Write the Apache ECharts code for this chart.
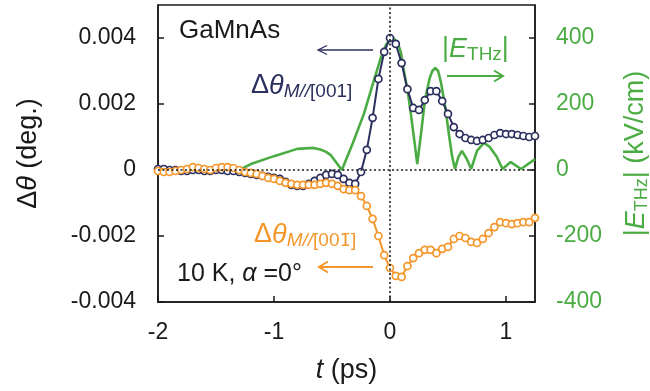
<!DOCTYPE html>
<html>
<head>
<meta charset="utf-8">
<script src="https://cdn.jsdelivr.net/npm/echarts@6/dist/echarts.min.js"></script>
<style>html,body{margin:0;padding:0;background:#fff}#c{width:650px;height:391px}</style>
</head>
<body>
<div id="c"></div>
<script>
// time delays (ps)
const times = [-2.00,-1.95,-1.90,-1.85,-1.80,-1.75,-1.70,-1.65,-1.60,-1.55,-1.50,-1.45,-1.40,-1.35,-1.30,-1.25,-1.20,-1.15,-1.10,-1.05,
  -1.00,-0.95,-0.90,-0.85,-0.80,-0.75,-0.70,-0.65,-0.60,-0.55,-0.50,-0.45,-0.40,-0.35,-0.30,-0.25,-0.20,-0.15,-0.10,-0.05,
  0.00,0.05,0.10,0.15,0.20,0.25,0.30,0.35,0.40,0.45,0.50,0.55,0.60,0.65,0.70,0.75,0.80,0.85,0.90,0.95,
  1.00,1.05,1.10,1.15,1.20,1.25];
// Δθ for M // [001] (deg.)
const thetaPlus = [0.00003,0.00003,0,0,-0.00003,-0.00003,0,0,-0.00003,-0.00003,0,0,-0.00003,-0.00003,-0.00006,-0.00009,-0.00012,-0.00015,-0.00018,-0.00021,
  -0.00024,-0.00027,-0.00036,-0.00045,-0.00048,-0.00048,-0.00042,-0.00033,-0.00024,-0.00015,-0.00012,-0.00015,-0.00027,-0.00039,-0.00042,-0.00006,0.00061,0.00158,0.00276,0.00358,
  0.0040,0.00382,0.00324,0.00245,0.00188,0.00182,0.00212,0.00239,0.00239,0.00209,0.0017,0.0013,0.00109,0.00097,0.00091,0.00088,0.00091,0.00097,0.00106,0.00112,
  0.00109,0.00109,0.00106,0.00103,0.0010,0.00103];
// Δθ for M // [00-1] (deg.)
const thetaMinus = [-0.00003,-0.00006,-0.00006,-0.00003,0,0.00003,0.00009,0.00006,0.00003,0,0.00006,0.00009,0.00009,0.00006,0,-0.00006,-0.00009,-0.00012,-0.00018,-0.00024,
  -0.00027,-0.00033,-0.00039,-0.00042,-0.00045,-0.00045,-0.00045,-0.00045,-0.00042,-0.00039,-0.00042,-0.00048,-0.00058,-0.00061,-0.00061,-0.00079,-0.00109,-0.00148,-0.0020,-0.00258,
  -0.00297,-0.00321,-0.00324,-0.00291,-0.00267,-0.00252,-0.00242,-0.00242,-0.00252,-0.00239,-0.00233,-0.00209,-0.0020,-0.00206,-0.00218,-0.00221,-0.00209,-0.00191,-0.00173,-0.00158,
  -0.00161,-0.00164,-0.00161,-0.00158,-0.00158,-0.00145];
// |E_THz| (kV/cm): times and magnitudes
const eTimes = [-2,-1.6,-1.3,-1.2,-1.0,-0.8,-0.66,-0.6,-0.55,-0.51,-0.415,-0.32,-0.225,-0.14,-0.08,-0.035,0.0,0.03,0.07,0.095,0.12,0.155,0.18,0.21,0.235,
  0.27,0.30,0.34,0.365,0.39,0.415,0.44,0.475,0.51,0.535,0.56,0.59,0.62,0.66,0.70,0.75,0.81,0.86,0.92,0.97,1.04,1.13,1.25];
const eField = [0,0,0,18,42,64,67,62,55,45,0,82,170,270,339,379,397,400,382,355,300,233,170,88,18,
  118,209,276,300,309,300,264,194,103,42,3,40,58,35,3,58,82,70,40,3,24,3,33];
const bottomTicks = [-2,-1,0,1];
const leftTicks = [-0.004,-0.002,0,0.002,0.004];
const rightTicks = [-400,-200,0,200,400];

const NAVY = '#2b2f5e', ORANGE = '#f5962a', GREEN = '#4cac44', BLACK = '#1a1a1a';
const FONT = 'Liberation Sans';

const pair = (xs, ys) => xs.map((x, i) => [x, ys[i]]);

const chart = echarts.init(document.getElementById('c'));
const option = {
  animation: false,
  grid: {left: 158, right: 115, top: 5, bottom: 89, show: true, borderColor: BLACK, borderWidth: 1.5,
    containLabel: false, outerBoundsMode: 'none'},
  xAxis: {
    type: 'value', min: -2, max: 1.25, interval: 1,
    axisLine: {show: true, onZero: false, lineStyle: {color: BLACK, width: 1.5}},
    axisTick: {inside: true, length: 6, lineStyle: {color: BLACK, width: 1.5}},
    axisLabel: {color: BLACK, fontSize: 23, fontFamily: FONT, margin: 19, showMaxLabel: false,
      formatter: v => bottomTicks.indexOf(Math.round(v * 100) / 100) >= 0 ? String(Math.round(v)) : ''},
    splitLine: {show: false},
    name: '{i|t}{a| (ps)}', nameLocation: 'middle', nameGap: 55,
    nameTextStyle: {color: BLACK, rich: {a: {fontSize: 27, fontFamily: FONT, color: BLACK}, i: {fontSize: 27, fontFamily: FONT, fontStyle: 'italic', color: BLACK}}}
  },
  yAxis: [{
    type: 'value', min: -0.004, max: 0.005, interval: 0.002,
    axisLine: {show: true, onZero: false, lineStyle: {color: BLACK, width: 1.5}},
    axisTick: {inside: true, length: 6, lineStyle: {color: BLACK, width: 1.5}},
    axisLabel: {color: BLACK, fontSize: 23, fontFamily: FONT, margin: 22, showMaxLabel: false,
      formatter: v => { const r = Math.round(v * 1000) / 1000; return leftTicks.some(t => Math.abs(t - r) < 1e-9) ? String(r) : ''; }},
    splitLine: {show: false},
    name: '{a|Δ}{i|θ}{a| (deg.)}', nameLocation: 'middle', nameGap: 116,
    nameTextStyle: {color: BLACK, rich: {a: {fontSize: 27, fontFamily: FONT, color: BLACK}, i: {fontSize: 27, fontFamily: FONT, fontStyle: 'italic', color: BLACK}}}
  }, {
    type: 'value', min: -400, max: 500, interval: 200, position: 'right',
    axisLine: {show: true, onZero: false, lineStyle: {color: BLACK, width: 1.5}},
    axisTick: {inside: true, length: 6, lineStyle: {color: BLACK, width: 1.5}},
    axisLabel: {color: GREEN, fontSize: 23, fontFamily: FONT, margin: 21, showMaxLabel: false,
      formatter: v => rightTicks.indexOf(Math.round(v)) >= 0 ? String(Math.round(v)) : ''},
    splitLine: {show: false},
    name: '{a||}{i|E}{s|THz}{a|| (kV/cm)}', nameLocation: 'middle', nameGap: 86,
    nameTextStyle: {color: GREEN, rich: {
      a: {fontSize: 27, fontFamily: FONT, color: GREEN, lineHeight: 30},
      i: {fontSize: 27, fontFamily: FONT, fontStyle: 'italic', color: GREEN, lineHeight: 30},
      s: {fontSize: 18, fontFamily: FONT, color: GREEN, verticalAlign: 'bottom', lineHeight: 17}}}
  }],
  series: [{
    type: 'line', yAxisIndex: 1, data: pair(eTimes, eField), showSymbol: false, symbol: 'none',
    lineStyle: {color: GREEN, width: 2.6}, z: 2
  }, {
    type: 'line', yAxisIndex: 0, data: pair(times, thetaPlus),
    symbol: 'circle', symbolSize: 7,
    itemStyle: {color: '#fff', borderColor: NAVY, borderWidth: 1.7},
    lineStyle: {color: NAVY, width: 2}, z: 3,
    markLine: {silent: true, symbol: 'none', label: {show: false},
      lineStyle: {color: BLACK, type: [2, 2.5], width: 1.6},
      data: [{xAxis: 0}, {yAxis: 0}]}
  }, {
    type: 'line', yAxisIndex: 0, data: pair(times, thetaMinus),
    symbol: 'circle', symbolSize: 7,
    itemStyle: {color: '#fff', borderColor: ORANGE, borderWidth: 1.7},
    lineStyle: {color: ORANGE, width: 2}, z: 4
  }],
  graphic: [
    {type: 'text', x: 179, y: 31, style: {text: 'GaMnAs', font: '26px "Liberation Sans"', fill: BLACK, verticalAlign: 'middle'}},
    {type: 'text', x: 177, y: 274, style: {text: '{a|10 K, }{i|α}{a| =0°}', verticalAlign: 'middle',
      rich: {a: {fontSize: 25, fontFamily: FONT, fill: BLACK}, i: {fontSize: 25, fontFamily: FONT, fontStyle: 'italic', fill: BLACK}}}},
    {type: 'text', x: 251, y: 86, style: {text: '{a|Δ}{i|θ}{s|M//}{t|[001]}', verticalAlign: 'middle',
      rich: {a: {fontSize: 27, fontFamily: FONT, fill: NAVY, lineHeight: 30},
        i: {fontSize: 27, fontFamily: FONT, fontStyle: 'italic', fill: NAVY, lineHeight: 30},
        s: {fontSize: 19, fontFamily: FONT, fontStyle: 'italic', fill: NAVY, verticalAlign: 'bottom', lineHeight: 18},
        t: {fontSize: 19, fontFamily: FONT, fill: NAVY, verticalAlign: 'bottom', lineHeight: 18}}}},
    {type: 'text', x: 254, y: 235, style: {text: '{a|Δ}{i|θ}{s|M//}{t|[00}{u|1\u0304}{t|]}', verticalAlign: 'middle',
      rich: {a: {fontSize: 27, fontFamily: FONT, fill: ORANGE, lineHeight: 30},
        i: {fontSize: 27, fontFamily: FONT, fontStyle: 'italic', fill: ORANGE, lineHeight: 30},
        s: {fontSize: 19, fontFamily: FONT, fontStyle: 'italic', fill: ORANGE, verticalAlign: 'bottom', lineHeight: 18},
        t: {fontSize: 19, fontFamily: FONT, fill: ORANGE, verticalAlign: 'bottom', lineHeight: 18},
        u: {fontSize: 18, fontFamily: 'DejaVu Sans', fill: ORANGE, verticalAlign: 'bottom', lineHeight: 18}}}},
    {type: 'text', x: 442, y: 49, style: {text: '{a||}{i|E}{s|THz}{a||}', verticalAlign: 'middle',
      rich: {a: {fontSize: 27, fontFamily: FONT, fill: GREEN, lineHeight: 30},
        i: {fontSize: 27, fontFamily: FONT, fontStyle: 'italic', fill: GREEN, lineHeight: 30},
        s: {fontSize: 19, fontFamily: FONT, fill: GREEN, verticalAlign: 'bottom', lineHeight: 18}}}},
    // arrows
    {type: 'line', shape: {x1: 318, y1: 50, x2: 373, y2: 50}, style: {stroke: NAVY, lineWidth: 1.3}},
    {type: 'polyline', shape: {points: [[327, 45.5], [318, 50], [327, 54.5]]}, style: {stroke: NAVY, lineWidth: 1.3, fill: null}},
    {type: 'line', shape: {x1: 447, y1: 76, x2: 503, y2: 76}, style: {stroke: GREEN, lineWidth: 2}},
    {type: 'polyline', shape: {points: [[494, 70.5], [503, 76], [494, 81.5]]}, style: {stroke: GREEN, lineWidth: 2, fill: null}},
    {type: 'line', shape: {x1: 319, y1: 267, x2: 373, y2: 267}, style: {stroke: ORANGE, lineWidth: 2}},
    {type: 'polyline', shape: {points: [[328, 261.5], [319, 267], [328, 272.5]]}, style: {stroke: ORANGE, lineWidth: 2, fill: null}}
  ]
};
chart.setOption(option);
</script>
</body>
</html>
